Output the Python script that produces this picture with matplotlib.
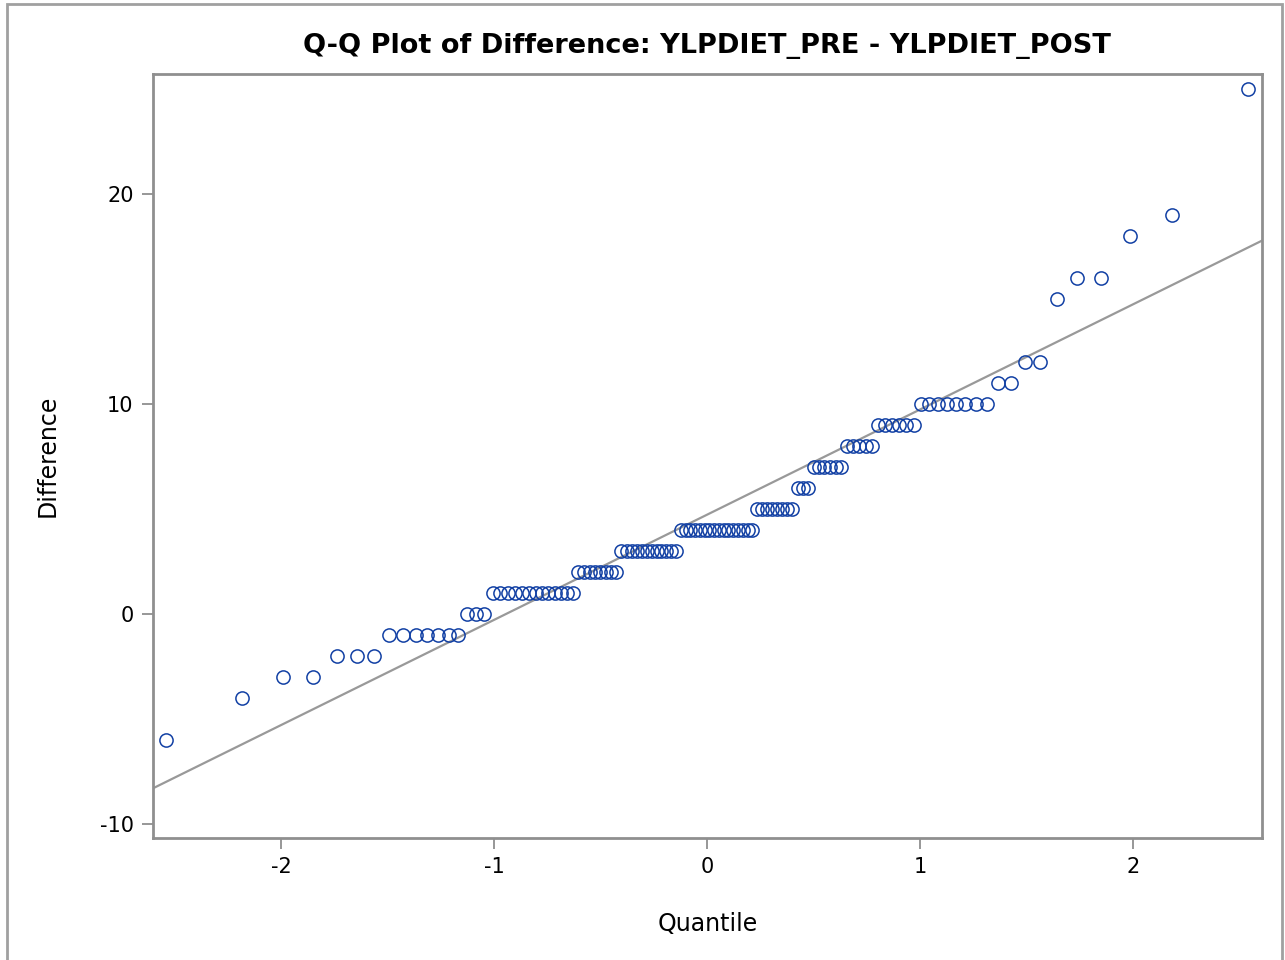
import matplotlib
matplotlib.use('Agg')
import matplotlib.pyplot as plt
import numpy as np
from statistics import NormalDist
from matplotlib.patches import Rectangle

plt.rcParams['axes.unicode_minus'] = False

# Differences (YLPDIET_PRE - YLPDIET_POST) and how many subjects had each value
diff_values = [-6, -4, -3, -2, -1, 0, 1, 2, 3, 4, 5, 6, 7, 8, 9, 10, 11, 12, 15, 16, 18, 19, 25]
diff_counts = [1, 1, 2, 3, 7, 3, 13, 8, 12, 16, 8, 3, 6, 5, 6, 8, 2, 2, 1, 2, 1, 1, 1]

x_ticks = [-2, -1, 0, 1, 2]
y_ticks = [-10, 0, 10, 20]

diff = np.sort(np.repeat(diff_values, diff_counts))
n = len(diff)

# normal quantiles (Blom) as used by SAS for Q-Q plots
nd = NormalDist()
ranks = np.arange(1, n + 1)
quant = np.array([nd.inv_cdf((i - 0.375) / (n + 0.25)) for i in ranks])

mu = diff.mean()
sigma = diff.std(ddof=1)

fig = plt.figure(figsize=(12.85, 9.6), dpi=100)
ax = fig.add_axes([153 / 1285, 1 - 838 / 960, (1262 - 153) / 1285, (838 - 74) / 960])

grey = '#8f8f8f'
xlim = (-2.601, 2.606)
ax.plot(xlim, [mu + sigma * xlim[0], mu + sigma * xlim[1]], color='#999999', lw=1.6, zorder=2)
ax.plot(quant, diff, 'o', mfc='none', mec='#1240a4', mew=1.1, ms=9.5, zorder=3)

ax.set_xlim(xlim)
ax.set_ylim(-10.67, 25.71)
ax.set_xticks(x_ticks)
ax.set_yticks(y_ticks)
ax.tick_params(direction='out', length=8, width=1.3, color=grey, labelsize=15, pad=6)
for s in ax.spines.values():
    s.set_color(grey)
    s.set_linewidth(2)

ax.set_xlabel('Quantile', fontsize=17, labelpad=25)
ax.set_ylabel('Difference', fontsize=17, labelpad=29)
fig.text(707 / 1285, 1 - 46 / 960, 'Q-Q Plot of Difference: YLPDIET_PRE - YLPDIET_POST',
         ha='center', va='center', fontsize=19.5, fontweight='bold')

# outer border of the graph
fig.add_artist(Rectangle((7 / 1285, -0.01), 1275 / 1285, 1 - 4 / 960 + 0.01,
                         transform=fig.transFigure, fill=False, ec='#a0a0a0', lw=2))

fig.savefig('out.png', dpi=100)
